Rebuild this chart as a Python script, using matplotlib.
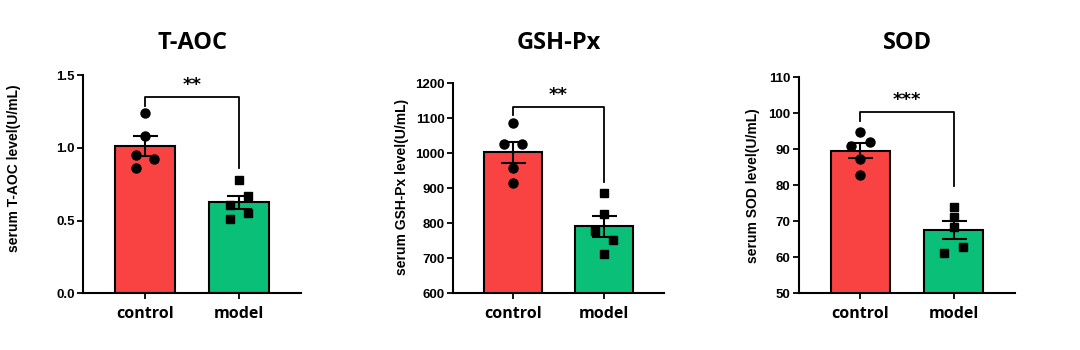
import numpy as np
import matplotlib
matplotlib.use("Agg")
import matplotlib.pyplot as plt

groups = ["control", "model"]
titles = ["T-AOC", "GSH-Px", "SOD"]
ylabels = ["serum T-AOC level(U/mL)", "serum GSH-Px level(U/mL)", "serum SOD level(U/mL)"]
stars = ["**", "**", "***"]

# individual animals
taoc_control = [1.24, 1.08, 0.95, 0.92, 0.86]
taoc_model = [0.78, 0.67, 0.61, 0.55, 0.51]
gsh_control = [1086, 1027, 1028, 957, 916]
gsh_model = [888, 826, 778, 752, 712]
sod_control = [94.9, 92.0, 90.9, 87.2, 82.9]
sod_model = [74.1, 71.1, 68.5, 63.0, 61.1]

# horizontal spread of dots (-1 left, 0 centre, +1 right)
taoc_spread = [[0, 0, -1, 1, -1], [0, 1, -1, 1, -1]]
gsh_spread = [[0, -1, 1, 0, 0], [0, 0, -1, 1, 0]]
sod_spread = [[0, 1, -1, 0, 0], [0, 0, 0, 1, -1]]

ylims = [(0, 1.5), (600, 1200), (50, 110)]
yticks = [[0.0, 0.5, 1.0, 1.5], list(range(600, 1201, 100)), list(range(50, 111, 10))]
ytick_fmt = ["{:.1f}", "{:d}", "{:d}"]
# bracket: top, left foot, right foot, star height
brackets = [(1.35, 1.29, 0.86, 1.43), (1131, 1109, 919, 1166), (100.3, 97.9, 79.8, 103.7)]

data = [(taoc_control, taoc_model), (gsh_control, gsh_model), (sod_control, sod_model)]
spreads = [taoc_spread, gsh_spread, sod_spread]

W, H = 1080, 350
# axes boxes in pixels: left, right, top
boxes = [(83, 301, 75), (453, 664, 83.3), (799, 1015, 77.3)]
bottom_px = 293.3
ylabel_pos = [(14, 168), (402, 187), (753, 186)]

red = "#F94343"
green = "#0ABF78"

fig = plt.figure(figsize=(W / 100, H / 100), dpi=100)

for i in range(3):
    l, r, t = boxes[i]
    ax = fig.add_axes([l / W, 1 - bottom_px / H, (r - l) / W, (bottom_px - t) / H])
    ctrl, mod = data[i]
    means = [np.mean(ctrl), np.mean(mod)]
    sems = [np.std(ctrl, ddof=1) / np.sqrt(len(ctrl)), np.std(mod, ddof=1) / np.sqrt(len(mod))]
    x = np.arange(2)
    ax.bar(x, means, width=0.64, color=[red, green], edgecolor="black", linewidth=1.5, zorder=1)
    ax.errorbar(x, means, yerr=sems, fmt="none", ecolor="black", elinewidth=1.5,
                capsize=9, capthick=1.5, zorder=3)
    ax.plot(x[0] + 0.1 * np.array(spreads[i][0]), ctrl, "o", color="black", ms=6.5, zorder=4)
    ax.plot(x[1] + 0.1 * np.array(spreads[i][1]), mod, "s", color="black", ms=6, zorder=4)

    top, lf, rf, sy = brackets[i]
    ax.plot([0, 0, 1, 1], [lf, top, top, rf], color="black", lw=1.3, zorder=2)
    ax.text(0.5, sy, stars[i], ha="center", va="center", fontsize=13, fontweight="bold",
            family="DejaVu Sans")

    ax.set_xlim(-0.66, 1.66)
    ax.set_ylim(*ylims[i])
    ax.set_yticks(yticks[i])
    ax.set_yticklabels([ytick_fmt[i].format(v) for v in yticks[i]],
                       family="Liberation Sans", fontweight="bold", fontsize=9.5)
    ax.set_xticks(x)
    ax.set_xticklabels(groups, family="Open Sans", fontweight="bold", fontsize=11.5)
    for s in ["top", "right"]:
        ax.spines[s].set_visible(False)
    for s in ["left", "bottom"]:
        ax.spines[s].set_linewidth(1.5)
    ax.tick_params(axis="both", direction="out", length=4, width=1.3)
    ax.tick_params(axis="x", pad=5)
    ax.tick_params(axis="y", pad=2)

    fig.text((l + r) / 2 / W, 1 - 43 / H, titles[i], ha="center", va="center",
             family="Open Sans", fontweight="bold", fontsize=17)
    lx, ly = ylabel_pos[i]
    fig.text(lx / W, 1 - ly / H, ylabels[i], rotation=90,
             ha="center", va="center", family="Liberation Sans", fontweight="bold", fontsize=10)

fig.savefig("out.png", dpi=100)
